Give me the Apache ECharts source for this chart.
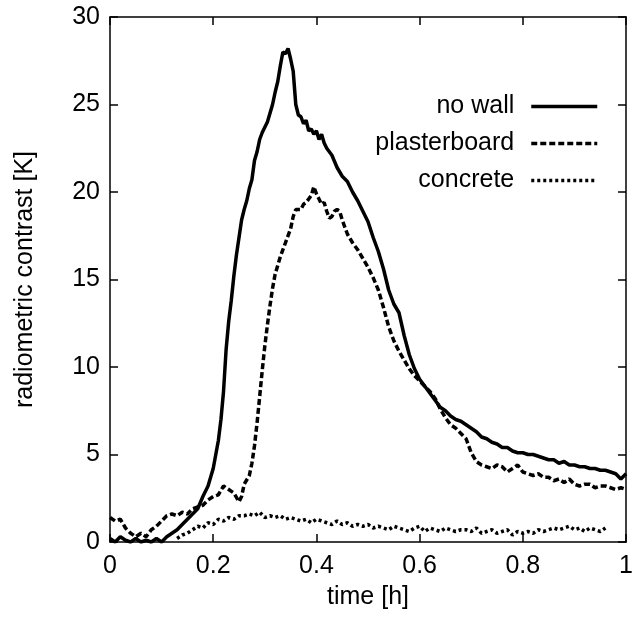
<!DOCTYPE html>
<html>
<head>
<meta charset="utf-8">
<script src="https://cdn.jsdelivr.net/npm/echarts@6/dist/echarts.min.js"></script>
<style>
  html, body { margin: 0; padding: 0; background: #fff; }
  #main { width: 636px; height: 620px; }
</style>
</head>
<body>
<div id="main"></div>
<script>
// time [h] and radiometric contrast [K]
const noWallT = [0.00, 0.01, 0.02, 0.03, 0.04, 0.05, 0.06, 0.07, 0.08, 0.09, 0.10, 0.11, 0.12, 0.13, 0.14, 0.15, 0.16, 0.17, 0.18, 0.19,
  0.20, 0.205, 0.21, 0.215, 0.22, 0.225, 0.23, 0.235, 0.24, 0.245, 0.25, 0.255, 0.26, 0.265, 0.27, 0.275, 0.28, 0.285, 0.29, 0.295,
  0.30, 0.305, 0.31, 0.315, 0.32, 0.325, 0.33, 0.335, 0.34, 0.345, 0.35, 0.355, 0.36, 0.365, 0.37, 0.375, 0.38, 0.385, 0.39, 0.395,
  0.40, 0.405, 0.41, 0.415, 0.42, 0.43, 0.44, 0.45, 0.46, 0.47, 0.48, 0.49, 0.50, 0.51, 0.52, 0.53, 0.54, 0.55, 0.56, 0.57,
  0.58, 0.59, 0.60, 0.61, 0.62, 0.63, 0.64, 0.65, 0.66, 0.67, 0.68, 0.69, 0.70, 0.71, 0.72, 0.73, 0.74, 0.75, 0.76, 0.77,
  0.78, 0.79, 0.80, 0.81, 0.82, 0.83, 0.84, 0.85, 0.86, 0.87, 0.88, 0.89, 0.90, 0.91, 0.92, 0.93, 0.94, 0.95, 0.96, 0.97,
  0.98, 0.99, 1.00];
const noWallV = [0.2, 0.0, 0.3, 0.1, 0.0, 0.2, 0.0, 0.1, 0.0, 0.2, 0.0, 0.3, 0.5, 0.7, 1.0, 1.3, 1.6, 1.9, 2.6, 3.2,
  4.2, 5.0, 5.8, 7.0, 8.6, 11.0, 12.6, 13.8, 15.2, 16.4, 17.4, 18.4, 19.0, 19.5, 20.2, 20.7, 21.8, 22.3, 23.0, 23.4,
  23.7, 24.0, 24.5, 25.0, 25.7, 26.3, 27.2, 28.0, 27.9, 28.2, 27.6, 26.9, 25.0, 24.4, 24.3, 23.9, 24.1, 23.5, 23.6, 23.3,
  23.5, 23.0, 23.3, 22.8, 22.5, 22.1, 21.4, 20.9, 20.6, 20.0, 19.5, 18.9, 18.3, 17.4, 16.6, 15.6, 14.4, 13.6, 13.1, 11.8,
  10.7, 9.9, 9.3, 8.9, 8.5, 8.1, 7.7, 7.5, 7.2, 7.0, 6.9, 6.7, 6.5, 6.3, 6.0, 5.9, 5.7, 5.6, 5.4, 5.4,
  5.2, 5.1, 5.1, 5.0, 5.0, 4.9, 4.8, 4.7, 4.7, 4.5, 4.6, 4.4, 4.4, 4.3, 4.3, 4.2, 4.2, 4.1, 4.1, 4.0,
  3.9, 3.6, 3.9];

const plasterT = [0.00, 0.01, 0.02, 0.03, 0.04, 0.05, 0.06, 0.07, 0.08, 0.09, 0.10, 0.11, 0.12, 0.13, 0.14, 0.15, 0.16, 0.17, 0.18, 0.19,
  0.20, 0.21, 0.22, 0.23, 0.24, 0.25, 0.255, 0.26, 0.27, 0.275, 0.28, 0.285, 0.29, 0.295, 0.30, 0.305, 0.31, 0.315, 0.32, 0.33,
  0.34, 0.35, 0.355, 0.36, 0.37, 0.375, 0.38, 0.385, 0.39, 0.395, 0.40, 0.405, 0.41, 0.415, 0.42, 0.425, 0.43, 0.435, 0.44, 0.445,
  0.45, 0.46, 0.47, 0.48, 0.49, 0.50, 0.51, 0.52, 0.53, 0.54, 0.55, 0.56, 0.57, 0.58, 0.59, 0.60, 0.61, 0.62, 0.63, 0.64,
  0.65, 0.66, 0.67, 0.68, 0.69, 0.70, 0.71, 0.72, 0.73, 0.74, 0.75, 0.76, 0.77, 0.78, 0.79, 0.80, 0.81, 0.82, 0.83, 0.84,
  0.85, 0.86, 0.87, 0.88, 0.89, 0.90, 0.91, 0.92, 0.93, 0.94, 0.95, 0.96, 0.97, 0.98, 0.99, 1.00];
const plasterV = [1.4, 1.2, 1.3, 0.8, 0.5, 0.3, 0.5, 0.3, 0.7, 0.9, 1.2, 1.5, 1.6, 1.5, 1.7, 1.6, 1.9, 2.0, 2.1, 2.4,
  2.6, 2.7, 3.2, 3.0, 2.8, 2.3, 2.6, 3.3, 3.8, 4.5, 5.5, 6.8, 8.3, 9.8, 11.2, 12.4, 13.5, 14.5, 15.3, 16.3,
  17.1, 17.9, 18.6, 19.0, 19.0, 19.3, 19.4, 19.6, 19.8, 20.3, 19.9, 19.6, 19.3, 19.4, 18.9, 18.5, 18.6, 18.9, 19.0, 18.9,
  18.4, 17.6, 17.1, 16.7, 16.2, 15.7, 15.1, 14.4, 13.4, 12.3, 11.5, 10.9, 10.4, 9.9, 9.5, 9.2, 8.9, 8.6, 8.2, 7.6,
  7.1, 6.7, 6.5, 6.2, 5.9, 5.1, 4.6, 4.4, 4.3, 4.2, 4.4, 4.3, 4.0, 4.2, 4.4, 4.0, 3.9, 3.8, 3.9, 3.7,
  3.7, 3.5, 3.6, 3.4, 3.6, 3.3, 3.2, 3.3, 3.3, 3.1, 3.2, 3.2, 3.1, 3.0, 3.1, 3.0];

const concreteT = [0.13, 0.14, 0.15, 0.16, 0.17, 0.18, 0.19, 0.20, 0.21, 0.22, 0.23, 0.24, 0.25, 0.26, 0.27, 0.28, 0.29, 0.30, 0.31, 0.32,
  0.33, 0.34, 0.35, 0.36, 0.37, 0.38, 0.39, 0.40, 0.41, 0.42, 0.43, 0.44, 0.45, 0.46, 0.47, 0.48, 0.49, 0.50, 0.51, 0.52,
  0.53, 0.54, 0.55, 0.56, 0.57, 0.58, 0.59, 0.60, 0.61, 0.62, 0.63, 0.64, 0.65, 0.66, 0.67, 0.68, 0.69, 0.70, 0.71, 0.72,
  0.73, 0.74, 0.75, 0.76, 0.77, 0.78, 0.79, 0.80, 0.81, 0.82, 0.83, 0.84, 0.85, 0.86, 0.87, 0.88, 0.89, 0.90, 0.91, 0.92,
  0.93, 0.94, 0.95, 0.96];
const concreteV = [0.2, 0.4, 0.5, 0.7, 0.9, 0.8, 1.1, 1.0, 1.3, 1.2, 1.4, 1.3, 1.5, 1.5, 1.6, 1.5, 1.7, 1.4, 1.5, 1.4,
  1.5, 1.3, 1.4, 1.3, 1.2, 1.3, 1.1, 1.3, 1.2, 1.1, 1.0, 1.2, 1.0, 1.1, 0.9, 1.0, 0.9, 1.0, 0.8, 0.9,
  0.8, 0.7, 0.9, 0.8, 0.7, 0.6, 0.8, 0.9, 0.6, 0.8, 0.7, 0.6, 0.8, 0.7, 0.6, 0.7, 0.7, 0.6, 0.8, 0.5,
  0.6, 0.7, 0.5, 0.6, 0.7, 0.4, 0.6, 0.5, 0.6, 0.5, 0.7, 0.6, 0.7, 0.8, 0.7, 0.8, 0.9, 0.7, 0.8, 0.6,
  0.8, 0.7, 0.6, 0.8];

const xTicks = [0, 0.2, 0.4, 0.6, 0.8, 1];
const yTicks = [0, 5, 10, 15, 20, 25, 30];

const zip = (t, v) => t.map((x, i) => [x, v[i]]);
const font = 'Liberation Sans, Arial, Helvetica, sans-serif';

const chart = echarts.init(document.getElementById('main'), null, { renderer: 'canvas' });

const frameAxis = {
    axisLine: { show: true, onZero: false, lineStyle: { color: '#000', width: 1.5 } },
    axisTick: { show: true, inside: true, length: 8, lineStyle: { color: '#000', width: 1.5 } },
    splitLine: { show: false },
};

chart.setOption({
    animation: false,
    backgroundColor: '#fff',
    textStyle: { fontFamily: font, color: '#000' },
    grid: { left: 110, right: 7, top: 17, bottom: 78 },
    legend: {
        orient: 'vertical',
        right: 32,
        top: 89,
        align: 'right',
        itemWidth: 66,
        itemHeight: 14,
        itemGap: 12,
        textStyle: { fontFamily: font, fontSize: 25, color: '#000', padding: [0, 12, 0, 0] },
        itemStyle: { opacity: 0 },
        lineStyle: { width: 3.5 },
        data: ['no wall', 'plasterboard', 'concrete']
    },
    xAxis: [{
        type: 'value', min: 0, max: 1, interval: 0.2,
        ...frameAxis,
        axisLabel: {
            fontFamily: font, fontSize: 25, color: '#000', margin: 12,
            formatter: v => xTicks.includes(v) ? String(v) : ''
        },
        name: 'time [h]',
        nameLocation: 'middle',
        nameGap: 43,
        nameTextStyle: { fontFamily: font, fontSize: 25, color: '#000' }
    }, {
        type: 'value', min: 0, max: 1, interval: 0.2, position: 'top',
        ...frameAxis,
        axisLabel: { show: false }
    }],
    yAxis: [{
        type: 'value', min: 0, max: 30, interval: 5,
        ...frameAxis,
        axisLabel: {
            fontFamily: font, fontSize: 25, color: '#000', margin: 10,
            formatter: v => yTicks.includes(v) ? String(v) : ''
        },
        name: 'radiometric contrast [K]',
        nameLocation: 'middle',
        nameGap: 72,
        nameTextStyle: { fontFamily: font, fontSize: 25, color: '#000' }
    }, {
        type: 'value', min: 0, max: 30, interval: 5, position: 'right',
        ...frameAxis,
        axisLabel: { show: false }
    }],
    series: [
        {
            name: 'no wall', type: 'line', symbol: 'none',
            data: zip(noWallT, noWallV),
            lineStyle: { color: '#000', width: 3.5, type: 'solid' },
            itemStyle: { color: '#000' }
        },
        {
            name: 'plasterboard', type: 'line', symbol: 'none',
            data: zip(plasterT, plasterV),
            lineStyle: { color: '#000', width: 3.5, type: [6, 3] },
            itemStyle: { color: '#000' }
        },
        {
            name: 'concrete', type: 'line', symbol: 'none',
            data: zip(concreteT, concreteV),
            lineStyle: { color: '#000', width: 3.5, type: [3, 3] },
            itemStyle: { color: '#000' }
        }
    ]
});
</script>
</body>
</html>
